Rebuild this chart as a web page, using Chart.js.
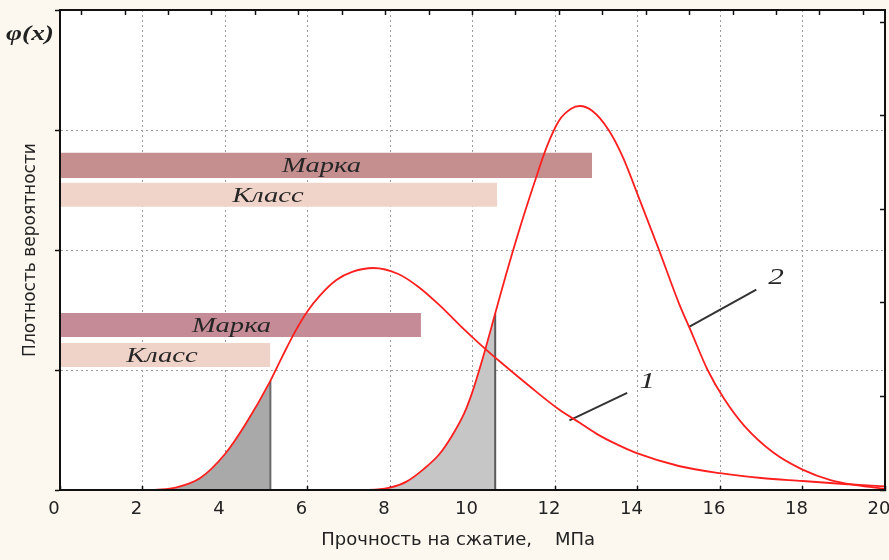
<!DOCTYPE html>
<html>
<head>
<meta charset="utf-8">
<script src="https://cdn.jsdelivr.net/npm/chart.js@4.4.0/dist/chart.umd.min.js"></script>
<style>
  html, body { margin: 0; padding: 0; background: #fcf8ef; }
  #wrap { width: 889px; height: 560px; }
</style>
</head>
<body>
<div id="wrap"><canvas id="chart" width="889" height="560"></canvas></div>
<script>
// Curve 1 (lower grade) and curve 2 (higher grade), strength in MPa vs density
const curve1X = [2.3, 2.8, 3.4, 4.0, 4.5, 5.1, 5.4, 5.7, 6.0, 6.3, 6.7, 7.1, 7.6, 8.2, 8.7, 9.2, 9.7, 10.2, 10.7, 11.4, 12.1, 12.6, 13.0, 13.5, 14.0, 15.0, 16.0, 17.0, 18.0, 19.0, 20.0];
const curve1Y = [0, 0.02, 0.1, 0.3, 0.55, 0.91, 1.12, 1.32, 1.49, 1.62, 1.75, 1.82, 1.85, 1.8, 1.69, 1.54, 1.37, 1.21, 1.06, 0.86, 0.67, 0.56, 0.47, 0.38, 0.305, 0.2, 0.14, 0.1, 0.075, 0.05, 0.03];

const curve2X = [7.2, 7.7, 8.0, 8.4, 8.8, 9.2, 9.5, 9.8, 10.0, 10.25, 10.55, 10.8, 11.1, 11.5, 11.8, 12.1, 12.4, 12.6, 12.9, 13.3, 13.65, 14.05, 14.5, 15.0, 15.3, 15.7, 16.1, 16.6, 17.3, 18.0, 18.7, 19.3, 20.0];
const curve2Y = [0, 0.005, 0.02, 0.07, 0.17, 0.3, 0.45, 0.64, 0.82, 1.1, 1.47, 1.78, 2.13, 2.56, 2.86, 3.08, 3.18, 3.2, 3.16, 3.0, 2.77, 2.42, 2.02, 1.56, 1.32, 1.0, 0.76, 0.53, 0.31, 0.17, 0.08, 0.04, 0.01];

// class boundary for each curve (shaded tail ends here)
const classCut = [5.1, 10.55];

// horizontal bars: label and end value (MPa)
const barLabels = ['Марка', 'Класс', 'Марка', 'Класс'];
const barEnds = [12.9, 10.6, 8.75, 5.1];

// curve numbers and leader lines
const curveNames = ['1', '2'];
const leader1 = [[12.35, 0.58], [13.75, 0.81]];
const leader2 = [[15.25, 1.36], [16.88, 1.67]];

const xTicks = [0, 2, 4, 6, 8, 10, 12, 14, 16, 18, 20];

// layout / style
const barBands = [[2.6, 2.81], [2.36, 2.56], [1.275, 1.475], [1.025, 1.225]];
const barColors = ['#c58f90', '#f1d4c9', '#c58b96', '#efd3c9'];
const barTextX = [6.34, 5.04, 4.16, 2.47];
const nameAt = [[14.24, 0.9], [17.36, 1.77]];
const STRETCH = 1.3;

const pts = (xs, ys) => xs.map((x, i) => ({ x: x, y: ys[i] }));
const upTo = (xs, ys, cut) => pts(xs, ys).filter(p => p.x <= cut + 1e-9);
const valAt = (xs, ys, x) => ys[xs.indexOf(x)];

const line = (data, color, width, extra) => Object.assign({
    data: data,
    borderColor: color,
    borderWidth: width,
    pointRadius: 0,
    fill: false,
    tension: 0
}, extra || {});

const datasets = [
    line(pts(curve1X, curve1Y), '#ff1f1f', 1.8, { cubicInterpolationMode: 'monotone' }),
    line(pts(curve2X, curve2Y), '#ff1f1f', 1.8, { cubicInterpolationMode: 'monotone' }),
    line(leader1.map(p => ({ x: p[0], y: p[1] })), '#333', 2),
    line(leader2.map(p => ({ x: p[0], y: p[1] })), '#333', 2),
    line([{ x: classCut[0], y: 0 }, { x: classCut[0], y: valAt(curve1X, curve1Y, classCut[0]) }], '#6a6a6a', 2),
    line([{ x: classCut[1], y: 0 }, { x: classCut[1], y: valAt(curve2X, curve2Y, classCut[1]) }], '#5a5a5a', 2),
    line(upTo(curve1X, curve1Y, classCut[0]), 'rgba(0,0,0,0)', 0, { fill: 'origin', backgroundColor: '#a9a9a9', cubicInterpolationMode: 'monotone' }),
    line(upTo(curve2X, curve2Y, classCut[1]), 'rgba(0,0,0,0)', 0, { fill: 'origin', backgroundColor: '#c6c6c6', cubicInterpolationMode: 'monotone' })
];

barEnds.forEach((end, i) => {
    datasets.push(line([{ x: 0, y: barBands[i][1] }, { x: end, y: barBands[i][1] }], 'rgba(0,0,0,0)', 0, {
        fill: { value: barBands[i][0] },
        backgroundColor: barColors[i]
    }));
});

function stretchedText(ctx, text, x, y, font, color) {
    ctx.save();
    ctx.translate(x, y);
    ctx.scale(STRETCH, 1);
    ctx.font = font;
    ctx.fillStyle = color;
    ctx.textAlign = 'center';
    ctx.textBaseline = 'middle';
    ctx.fillText(text, 0, 0);
    ctx.restore();
}

const paperPlugin = {
    id: 'paper',
    beforeDraw(chart) {
        const { ctx, chartArea: a } = chart;
        ctx.save();
        ctx.fillStyle = '#fcf8ef';
        ctx.fillRect(0, 0, chart.width, chart.height);
        ctx.fillStyle = '#ffffff';
        ctx.fillRect(a.left, a.top, a.right - a.left, a.bottom - a.top);
        ctx.restore();
    }
};

const textPlugin = {
    id: 'texts',
    afterDatasetsDraw(chart) {
        const { ctx, scales: { x, y } } = chart;
        barLabels.forEach((t, i) => {
            const yc = (barBands[i][0] + barBands[i][1]) / 2;
            stretchedText(ctx, t, x.getPixelForValue(barTextX[i]), y.getPixelForValue(yc) + 1,
                'italic 22px "Liberation Serif"', '#262626');
        });
        curveNames.forEach((t, i) => {
            stretchedText(ctx, t, x.getPixelForValue(nameAt[i][0]), y.getPixelForValue(nameAt[i][1]),
                'italic 24px "Liberation Serif"', '#262626');
        });
    },
    afterDraw(chart) {
        stretchedText(chart.ctx, 'φ(x)', 30, 35, 'italic bold 21px "Liberation Serif"', '#222');
    }
};

Chart.defaults.font.family = 'DejaVu Sans';

new Chart(document.getElementById('chart'), {
    type: 'line',
    data: { datasets: datasets },
    options: {
        responsive: false,
        devicePixelRatio: 1,
        animation: false,
        events: [],
        layout: { padding: { left: 0, right: 4, top: 10, bottom: 0 } },
        plugins: { legend: { display: false }, tooltip: { enabled: false } },
        scales: {
            x: {
                type: 'linear',
                position: 'bottom',
                min: 0,
                max: 20,
                afterBuildTicks: s => { s.ticks = xTicks.map(v => ({ value: v })); },
                afterFit: s => { s.height = 70; s.paddingLeft = 0; s.paddingRight = 0; },
                ticks: { font: { size: 18 }, color: '#222', padding: 13, labelOffset: -6 },
                grid: { color: '#9c9c9c', lineWidth: 1, tickLength: -4, tickColor: '#111', tickWidth: 1.5, tickBorderDash: [] },
                border: { display: true, color: '#111', width: 2, dash: [2, 3], z: 1 },
                title: {
                    display: true,
                    text: 'Прочность на сжатие,    МПа     ',
                    font: { size: 18 },
                    color: '#222',
                    padding: { top: 0, bottom: 9 }
                }
            },
            y: {
                type: 'linear',
                position: 'left',
                min: 0,
                max: 4,
                ticks: { stepSize: 1, display: false },
                afterFit: s => { s.width = 60; },
                grid: { color: '#9c9c9c', lineWidth: 1, tickLength: 5, tickColor: '#111', tickWidth: 1.5, tickBorderDash: [] },
                border: { display: true, color: '#111', width: 2, dash: [2, 3], z: 1 },
                title: {
                    display: true,
                    text: 'Плотность вероятности',
                    font: { size: 17 },
                    color: '#222',
                    padding: { top: 20, bottom: 0 }
                }
            },
            x2: {
                type: 'linear',
                position: 'top',
                min: -0.5,
                max: 18.5,
                afterBuildTicks: s => { s.ticks = Array.from({ length: 19 }, (_, i) => ({ value: i })); },
                afterFit: s => { s.height = 0; s.paddingLeft = 0; s.paddingRight = 0; },
                ticks: { display: false },
                grid: { drawOnChartArea: false, tickLength: -5, tickColor: '#111', tickWidth: 1.5 },
                border: { display: true, color: '#111', width: 2, z: 1 }
            },
            y2: {
                type: 'linear',
                position: 'right',
                min: 0,
                max: 5.13,
                afterBuildTicks: s => { s.ticks = [0, 1, 2, 3, 4, 5].map(v => ({ value: v })); },
                afterFit: s => { s.width = 0; },
                ticks: { display: false },
                grid: { drawOnChartArea: false, tickLength: -5, tickColor: '#111', tickWidth: 1.5 },
                border: { display: true, color: '#111', width: 2, z: 1 }
            }
        }
    },
    plugins: [paperPlugin, textPlugin]
});
</script>
</body>
</html>
